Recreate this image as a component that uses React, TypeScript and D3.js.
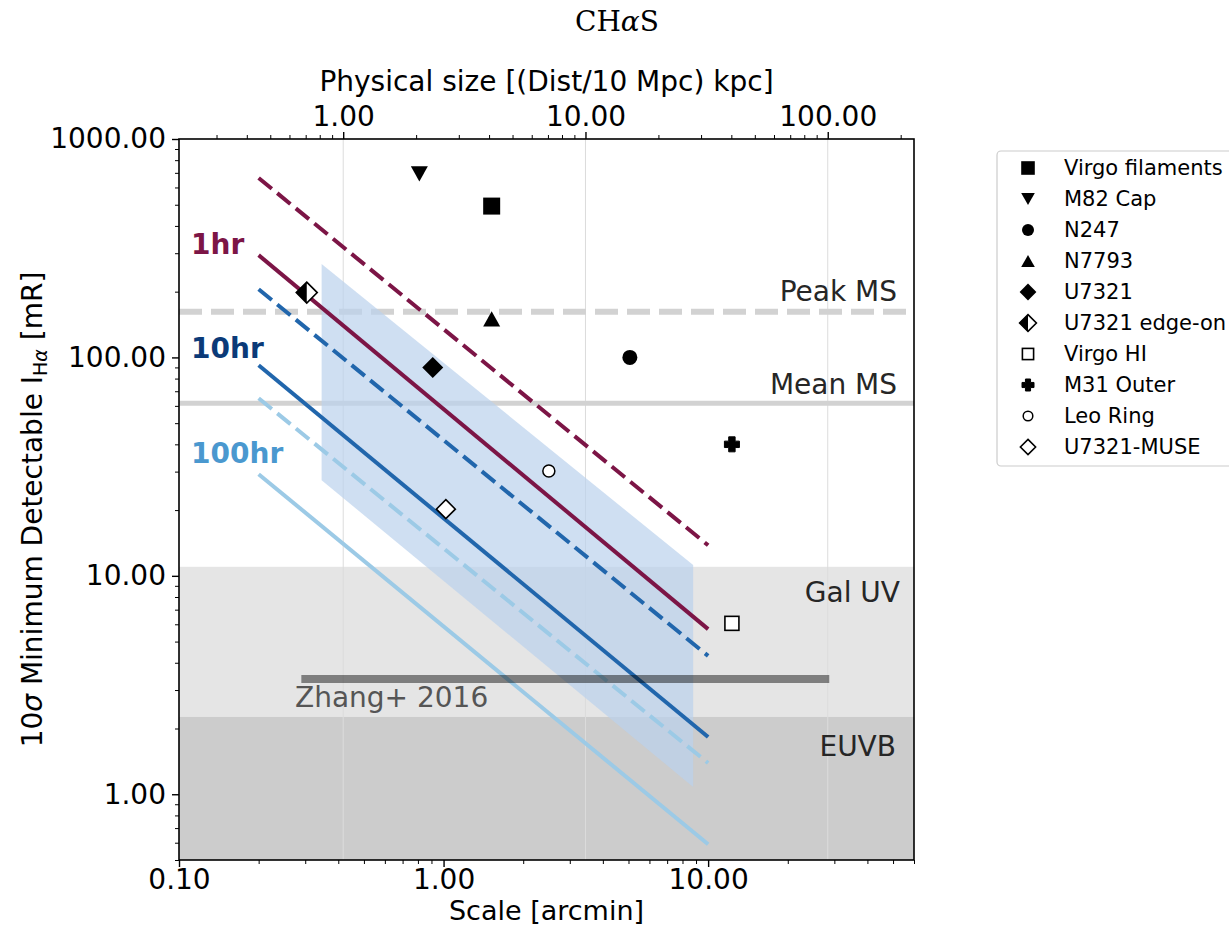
import React, { useEffect, useRef } from 'react';
import * as d3 from 'd3';

// sensitivity curves: scale in arcmin where they start / stop, 10 sigma limit in mR
const curveScale = [0.2, 10];
const exposures = ['1hr', '10hr', '100hr'];
const solidStart = [294, 92, 29.2];
const solidEnd = [5.7, 1.83, 0.59];
const dashedStart = [663, 205, 65];
const dashedEnd = [13.8, 4.3, 1.39];

// shaded blue band (scale range, upper and lower edge)
const bandScale = [0.346, 8.78];
const bandTop = [268, 11.2];
const bandBottom = [27.4, 1.08];

// reference levels
const peakMS = 162;
const meanMS = 61.7;
const galUV = [2.26, 11];
const euvb = [0.5, 2.26];
const zhangScale = [0.29, 28.7];
const zhangLevel = 3.37;

// observations
const obsNames = ['Virgo filaments', 'M82 Cap', 'N247', 'N7793', 'U7321', 'U7321 edge-on', 'Virgo HI', 'M31 Outer', 'Leo Ring', 'U7321-MUSE'];
const obsScale = [1.52, 0.81, 5.06, 1.52, 0.91, 0.304, 12.3, 12.3, 2.5, 1.02];
const obsLevel = [493, 692, 100, 150, 90, 198, 6.06, 40, 30.2, 20.2];
const obsMarker = ['square', 'triDown', 'circle', 'triUp', 'diamond', 'halfDiamond', 'openSquare', 'plus', 'openCircle', 'openDiamond'];

const xTicks = [0.1, 1, 10];
const yTicks = [1, 10, 100, 1000];
const topTicks = [1, 10, 100];

const curveColors = ['#7c1546', '#2166ac', '#9ccae6'];
const labelColors = ['#7c1546', '#0b3a78', '#4a98cf'];
const FONT = "'DejaVu Sans', sans-serif";

const minorTicks = (lo: number, hi: number) => {
  const out: number[] = [];
  for (let e = -2; e <= 3; e++) {
    for (let k = 2; k <= 9; k++) {
      const v = k * Math.pow(10, e);
      if (v >= lo * 0.999 && v <= hi * 1.001) out.push(v);
    }
  }
  return out;
};

const drawMarker = (g: any, type: string, cx: number, cy: number, k: number) => {
  const sq = 17 * k, tri = 17 * k, dia = 21 * k;
  if (type === 'square') {
    g.append('rect').attr('x', cx - sq / 2).attr('y', cy - sq / 2).attr('width', sq).attr('height', sq).attr('fill', '#000');
  } else if (type === 'openSquare') {
    const s = 14 * k;
    g.append('rect').attr('x', cx - s / 2).attr('y', cy - s / 2).attr('width', s).attr('height', s)
      .attr('fill', '#fff').attr('stroke', '#000').attr('stroke-width', 1.6);
  } else if (type === 'triDown' || type === 'triUp') {
    const d = type === 'triDown' ? 1 : -1;
    const h = tri * 0.45;
    g.append('path').attr('d', `M${cx - tri / 2},${cy - d * h} L${cx + tri / 2},${cy - d * h} L${cx},${cy + d * h}Z`).attr('fill', '#000');
  } else if (type === 'circle') {
    g.append('circle').attr('cx', cx).attr('cy', cy).attr('r', 7.5 * k).attr('fill', '#000');
  } else if (type === 'openCircle') {
    g.append('circle').attr('cx', cx).attr('cy', cy).attr('r', 6 * k).attr('fill', '#fff').attr('stroke', '#000').attr('stroke-width', 1.5);
  } else if (type === 'diamond' || type === 'openDiamond' || type === 'halfDiamond') {
    const r = (type === 'openDiamond' ? 19 * k : dia) / 2;
    const d = `M${cx},${cy - r} L${cx + r},${cy} L${cx},${cy + r} L${cx - r},${cy}Z`;
    if (type === 'diamond') {
      g.append('path').attr('d', d).attr('fill', '#000');
    } else {
      g.append('path').attr('d', d).attr('fill', '#fff').attr('stroke', '#000').attr('stroke-width', 1.6);
      if (type === 'halfDiamond') {
        g.append('path').attr('d', `M${cx},${cy - r} L${cx - r},${cy} L${cx},${cy + r}Z`).attr('fill', '#000');
      }
    }
  } else if (type === 'plus') {
    const a = 7.5 * k, w = 3.2 * k;
    g.append('path')
      .attr('d', `M${cx - w},${cy - a} H${cx + w} V${cy - w} H${cx + a} V${cy + w} H${cx + w} V${cy + a} H${cx - w} V${cy + w} H${cx - a} V${cy - w} H${cx - w}Z`)
      .attr('fill', '#000').attr('stroke', '#000').attr('stroke-linejoin', 'round').attr('stroke-width', 1);
  }
};

const App = () => {
  const svgRef = useRef<SVGSVGElement>(null);
  const width = 1229;
  const height = 928;
  const margin = { top: 139, right: 315, bottom: 68, left: 179 };

  useEffect(() => {
    if (!svgRef.current) return;
    d3.select(svgRef.current).selectAll('*').remove();
    const svg = d3.select(svgRef.current);

    const x0 = margin.left, x1 = width - margin.right;
    const y0 = margin.top, y1 = height - margin.bottom;

    const x = d3.scaleLog().domain([0.1, 60]).range([x0, x1]);
    const xTop = d3.scaleLog().domain([0.21, 227]).range([x0, x1]);
    const y = d3.scaleLog().domain([0.5, 1000]).range([y1, y0]);

    svg.append('defs').append('clipPath').attr('id', 'plot-clip')
      .append('rect').attr('x', x0).attr('y', y0).attr('width', x1 - x0).attr('height', y1 - y0);

    const plot = svg.append('g').attr('clip-path', 'url(#plot-clip)');

    // background bands
    plot.append('rect').attr('x', x0).attr('width', x1 - x0)
      .attr('y', y(galUV[1])).attr('height', y(galUV[0]) - y(galUV[1])).attr('fill', '#e5e5e5');
    plot.append('rect').attr('x', x0).attr('width', x1 - x0)
      .attr('y', y(euvb[1])).attr('height', y(euvb[0]) - y(euvb[1])).attr('fill', '#cccccc');

    // grid from the top axis
    topTicks.forEach(t => {
      plot.append('line').attr('x1', xTop(t)).attr('x2', xTop(t)).attr('y1', y0).attr('y2', y1)
        .attr('stroke', '#dcdcdc').attr('stroke-width', 1);
    });

    // MS levels
    plot.append('line').attr('x1', x0).attr('x2', x1).attr('y1', y(peakMS)).attr('y2', y(peakMS))
      .attr('stroke', '#d2d2d2').attr('stroke-width', 6).attr('stroke-dasharray', '23,9');
    plot.append('line').attr('x1', x0).attr('x2', x1).attr('y1', y(meanMS)).attr('y2', y(meanMS))
      .attr('stroke', '#d2d2d2').attr('stroke-width', 5);

    // blue band
    const bandPts: [number, number][] = [
      [x(bandScale[0]), y(bandTop[0])],
      [x(bandScale[1]), y(bandTop[1])],
      [x(bandScale[1]), y(bandBottom[1])],
      [x(bandScale[0]), y(bandBottom[0])],
    ];
    plot.append('path').attr('d', d3.line()(bandPts) + 'Z')
      .attr('fill', 'rgb(186,210,236)').attr('fill-opacity', 0.7);

    // sensitivity curves
    const line = d3.line<[number, number]>().x(d => x(d[0])).y(d => y(d[1]));
    exposures.forEach((_, i) => {
      plot.append('path')
        .attr('d', line([[curveScale[0], dashedStart[i]], [curveScale[1], dashedEnd[i]]]))
        .attr('stroke', curveColors[i]).attr('stroke-width', 4).attr('fill', 'none')
        .attr('stroke-dasharray', '17,7');
      plot.append('path')
        .attr('d', line([[curveScale[0], solidStart[i]], [curveScale[1], solidEnd[i]]]))
        .attr('stroke', curveColors[i]).attr('stroke-width', 4).attr('fill', 'none');
    });

    // Zhang+ 2016
    plot.append('line').attr('x1', x(zhangScale[0])).attr('x2', x(zhangScale[1]))
      .attr('y1', y(zhangLevel)).attr('y2', y(zhangLevel))
      .attr('stroke', '#000').attr('stroke-opacity', 0.45).attr('stroke-width', 8);

    // labels inside axes
    const txt = (s: string, px: number, py: number, anchor: string, fill: string, size = 28, weight = 'normal') =>
      plot.append('text').attr('x', px).attr('y', py).attr('text-anchor', anchor)
        .attr('font-family', FONT).attr('font-size', size).attr('font-weight', weight).attr('fill', fill).text(s);

    txt('Peak MS', x1 - 17, y(peakMS) - 11, 'end', '#262626');
    txt('Mean MS', x1 - 17, y(meanMS) - 9, 'end', '#262626');
    txt('Gal UV', x1 - 14, y(galUV[1]) + 35, 'end', '#262626');
    txt('EUVB', x1 - 18, y(euvb[1]) + 39, 'end', '#262626');
    txt('Zhang+ 2016', 295, y(zhangLevel) + 28, 'start', '#555555');

    const labelY = [254, 358, 463];
    exposures.forEach((e, i) => txt(e, 191, labelY[i], 'start', labelColors[i], 28, 'bold'));

    // observations
    const pts = svg.append('g');
    obsNames.forEach((_, i) => drawMarker(pts, obsMarker[i], x(obsScale[i]), y(obsLevel[i]), 1));

    // frame
    svg.append('rect').attr('x', x0).attr('y', y0).attr('width', x1 - x0).attr('height', y1 - y0)
      .attr('fill', 'none').attr('stroke', '#000').attr('stroke-width', 1.6);

    // axes
    const fmt = d3.format('.2f');
    const styleAxis = (g: any) => {
      g.select('.domain').remove();
      g.selectAll('line').attr('stroke', '#000').attr('stroke-width', 1.4);
      g.selectAll('text').attr('font-family', FONT).attr('font-size', 28).attr('fill', '#000');
    };
    const styleMinor = (g: any) => {
      g.select('.domain').remove();
      g.selectAll('line').attr('stroke', '#000').attr('stroke-width', 1);
      g.selectAll('text').remove();
    };

    svg.append('g').attr('transform', `translate(0,${y1})`)
      .call(d3.axisBottom(x).tickValues(xTicks).tickFormat(fmt as any).tickSize(7).tickPadding(2)).call(styleAxis);
    svg.append('g').attr('transform', `translate(0,${y1})`)
      .call(d3.axisBottom(x).tickValues(minorTicks(0.1, 60)).tickSize(4)).call(styleMinor);

    svg.append('g').attr('transform', `translate(${x0},0)`)
      .call(d3.axisLeft(y).tickValues(yTicks).tickFormat(fmt as any).tickSize(7).tickPadding(6)).call(styleAxis);
    svg.append('g').attr('transform', `translate(${x0},0)`)
      .call(d3.axisLeft(y).tickValues(minorTicks(0.5, 1000)).tickSize(4)).call(styleMinor);

    svg.append('g').attr('transform', `translate(0,${y0})`)
      .call(d3.axisTop(xTop).tickValues(topTicks).tickFormat(fmt as any).tickSize(7).tickPadding(6)).call(styleAxis);
    svg.append('g').attr('transform', `translate(0,${y0})`)
      .call(d3.axisTop(xTop).tickValues(minorTicks(0.21, 227)).tickSize(4)).call(styleMinor);

    // axis titles
    svg.append('text').attr('x', (x0 + x1) / 2).attr('y', 920).attr('text-anchor', 'middle')
      .attr('font-family', FONT).attr('font-size', 27).text('Scale [arcmin]');
    svg.append('text').attr('x', (x0 + x1) / 2).attr('y', 91).attr('text-anchor', 'middle')
      .attr('font-family', FONT).attr('font-size', 28).text('Physical size [(Dist/10 Mpc) kpc]');

    const yl = svg.append('text').attr('transform', `translate(42,${(y0 + y1) / 2 + 10}) rotate(-90)`)
      .attr('text-anchor', 'middle').attr('font-family', FONT).attr('font-size', 28);
    yl.append('tspan').text('10');
    yl.append('tspan').attr('font-style', 'italic').text('σ');
    yl.append('tspan').text(' Minimum Detectable I');
    yl.append('tspan').attr('font-size', 19).attr('dy', 5).text('H');
    yl.append('tspan').attr('font-size', 19).attr('font-style', 'italic').text('α');
    yl.append('tspan').attr('dy', -5).text(' [mR]');

    // title
    const title = svg.append('text').attr('x', 617).attr('y', 31).attr('text-anchor', 'middle')
      .attr('font-family', "'DejaVu Serif', serif").attr('font-size', 28);
    title.append('tspan').text('CH');
    title.append('tspan').attr('font-style', 'italic').text('α');
    title.append('tspan').text('S');

    // legend
    const lg = svg.append('g');
    lg.append('rect').attr('x', 997).attr('y', 151).attr('width', 260).attr('height', 315).attr('rx', 4)
      .attr('fill', '#fff').attr('stroke', '#cccccc').attr('stroke-width', 1.2);
    obsNames.forEach((name, i) => {
      const ry = 168 + i * 31;
      drawMarker(lg, obsMarker[i], 1028, ry, 0.8);
      lg.append('text').attr('x', 1064).attr('y', ry + 7).attr('font-family', FONT).attr('font-size', 21)
        .attr('fill', '#000').text(name);
    });
  }, []);

  return (
    <svg ref={svgRef} width={width} height={height}
      style={{ position: 'absolute', left: 0, top: 0, background: '#fff' }} />
  );
};

export default App;
